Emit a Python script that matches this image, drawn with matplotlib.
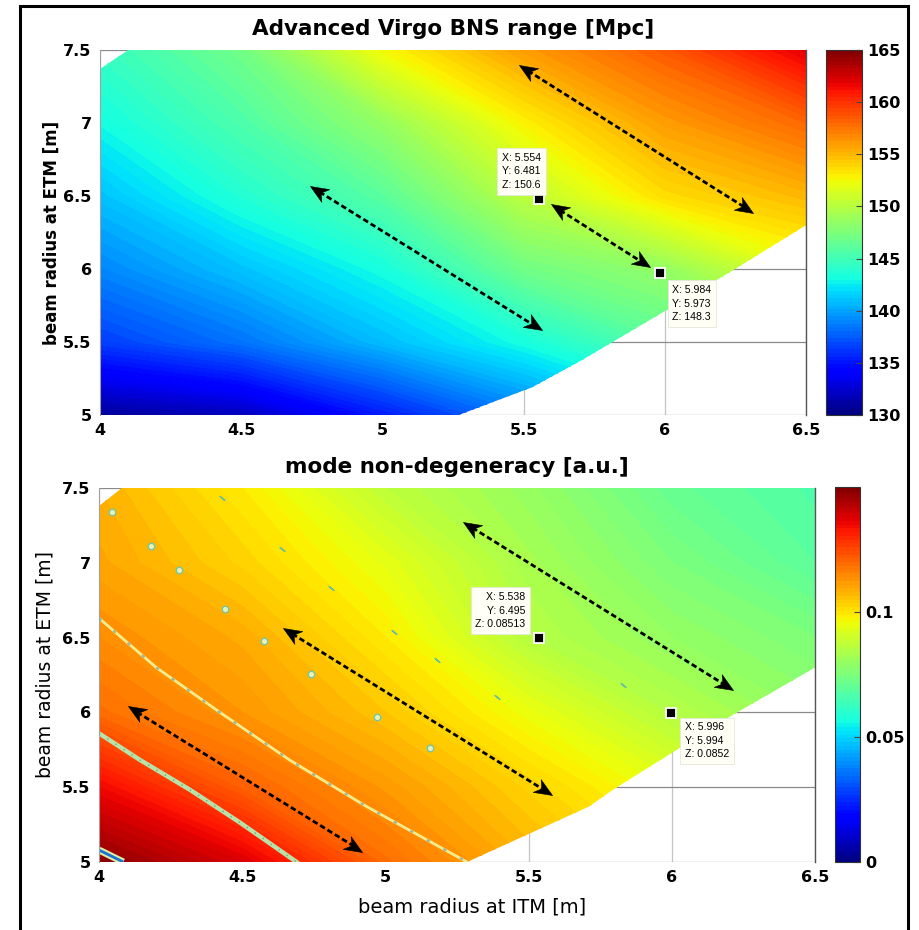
import numpy as np
import matplotlib
matplotlib.use("Agg")
import matplotlib.pyplot as plt
from matplotlib.patches import Polygon, Rectangle

# ---------------- data ----------------
x_itm = [4.0, 4.5, 5.0, 5.5, 6.0, 6.5]          # beam radius at ITM [m]
y_etm = [5.0, 5.5, 6.0, 6.5, 7.0, 7.5]          # beam radius at ETM [m]

# BNS range [Mpc], rows follow y_etm, columns follow x_itm
bns_range = [
    [130.8, 131.8, 135.2, 138.5, 141.5, 144.5],
    [136.5, 138.3, 140.8, 143.2, 146.0, 149.0],
    [139.0, 141.0, 143.2, 147.0, 148.5, 152.0],
    [141.0, 143.7, 146.0, 150.2, 153.6, 155.0],
    [143.0, 145.5, 148.5, 152.8, 156.0, 158.0],
    [144.5, 147.0, 152.5, 156.0, 158.5, 162.0],
]

# mode non-degeneracy [a.u.]
mode_nondeg = [
    [0.148, 0.138, 0.119, 0.108, 0.100, 0.094],
    [0.135, 0.121, 0.112, 0.103, 0.094, 0.087],
    [0.119, 0.1125, 0.105, 0.095, 0.0852, 0.079],
    [0.114, 0.109, 0.099, 0.0855, 0.0795, 0.075],
    [0.110, 0.103, 0.094, 0.083, 0.075, 0.069],
    [0.108, 0.099, 0.087, 0.080, 0.071, 0.067],
]

# valid (stable) region of the parameter space
domain_top_x = [4.0, 5.27, 5.53, 5.71, 5.99, 6.24, 6.5, 6.5, 4.1, 4.0]
domain_top_y = [5.0, 5.0, 5.19, 5.38, 5.70, 5.99, 6.3, 7.5, 7.5, 7.37]
domain_bot_x = [4.0, 5.285, 5.515, 5.71, 5.8, 6.21, 6.5, 6.5, 4.08, 4.0]
domain_bot_y = [5.0, 5.0, 5.2, 5.37, 5.49, 5.98, 6.3, 7.5, 7.5, 7.38]

# data tips
tips_top_x = [5.554, 5.984]
tips_top_y = [6.481, 5.973]
tips_top_z = ["150.6", "148.3"]
tips_bot_x = [5.538, 5.996]
tips_bot_y = [6.495, 5.994]
tips_bot_z = ["0.08513", "0.0852"]

# double arrows (start, end)
arrows_top = [((4.744, 6.568), (5.565, 5.580)),
              ((5.596, 6.443), (5.949, 6.011)),
              ((5.482, 7.398), (6.313, 6.386))]
arrows_bot = [((4.100, 6.040), (4.920, 5.070)),
              ((4.642, 6.564), (5.582, 5.448)),
              ((5.271, 7.273), (6.214, 6.150))]

# mode-degeneracy resonance traces in the lower map
resA_x = [4.0, 4.145, 4.32, 4.495, 4.69]
resA_y = [5.86, 5.68, 5.48, 5.26, 5.0]
resB_x = [4.0, 4.2, 4.43, 4.667, 4.935, 5.285]
resB_y = [6.63, 6.30, 5.99, 5.68, 5.37, 5.0]
resC_x = [4.045, 4.18, 4.28, 4.44, 4.575, 4.74, 4.97, 5.157]
resC_y = [7.34, 7.11, 6.95, 6.69, 6.48, 6.26, 5.97, 5.76]
resD_x = [4.43, 4.64, 4.81, 5.03, 5.18, 5.39, 5.83]
resD_y = [7.43, 7.09, 6.83, 6.54, 6.35, 6.10, 6.18]
resE_x = [4.0, 4.085]
resE_y = [5.08, 5.0]

xtick_vals = [4, 4.5, 5, 5.5, 6, 6.5]
xtick_labels = ["4", "4.5", "5", "5.5", "6", "6.5"]
ytick_vals = [5, 5.5, 6, 6.5, 7, 7.5]
ytick_labels = ["5", "5.5", "6", "6.5", "7", "7.5"]
cb_top_ticks = [130, 135, 140, 145, 150, 155, 160, 165]
cb_top_labels = ["130", "135", "140", "145", "150", "155", "160", "165"]
cb_bot_ticks = [0, 0.05, 0.1]
cb_bot_labels = ["0", "0.05", "0.1"]

# ---------------- figure ----------------
W, H = 919, 930
fig = plt.figure(figsize=(W / 100, H / 100), dpi=100)
fig.patch.set_facecolor("white")


def fr(x0, y0, x1, y1):
    return [x0 / W, 1 - y1 / H, (x1 - x0) / W, (y1 - y0) / H]


ax1 = fig.add_axes(fr(100, 50, 806, 415))
cax1 = fig.add_axes(fr(826, 50, 862, 415))
ax2 = fig.add_axes(fr(99, 488, 815, 862))
cax2 = fig.add_axes(fr(835, 487, 860, 862))

X, Y = np.meshgrid(x_itm, y_etm)


def style_axes(ax):
    ax.set_xlim(4, 6.5)
    ax.set_ylim(5, 7.5)
    ax.set_xticks(xtick_vals)
    ax.set_xticklabels(xtick_labels)
    ax.set_yticks(ytick_vals)
    ax.set_yticklabels(ytick_labels)
    ax.tick_params(length=0, labelsize=11.5, pad=6)
    for lab in ax.get_xticklabels() + ax.get_yticklabels():
        lab.set_fontweight("bold")
    ax.set_axisbelow(True)
    ax.xaxis.grid(True, color="#c4c4c4", lw=0.9)
    ax.yaxis.grid(True, color="#8a8a8a", lw=0.9)
    ax.spines["top"].set_visible(False)
    ax.spines["bottom"].set_visible(False)
    ax.spines["left"].set_color("#a0a0a0")
    ax.spines["left"].set_linewidth(0.8)
    ax.spines["right"].set_color("#555555")
    ax.spines["right"].set_linewidth(1.0)


def draw_map(ax, Z, levels, vmin, vmax, dx, dy):
    clip = Polygon(np.column_stack([dx, dy]), closed=True, transform=ax.transData,
                   facecolor="none", edgecolor="none")
    ax.add_patch(clip)
    cs = ax.contourf(X, Y, np.array(Z), levels=levels, cmap="jet",
                     vmin=vmin, vmax=vmax, zorder=1)
    cs.set_edgecolor("face")
    cs.set_linewidth(0.3)
    cs.set_clip_path(clip)
    return cs


# notched arrow head, tip at origin pointing along +x (pixel units)
HEAD = np.array([[0, 0], [-18, 7.5], [-12.5, 0], [-18, -7.5], [0, 0]], dtype=float)


def draw_arrows(ax, arrows):
    tr = ax.transData
    inv = tr.inverted()
    for (p0, p1) in arrows:
        d0 = tr.transform(p0)
        d1 = tr.transform(p1)
        v = d1 - d0
        L = np.hypot(*v)
        u = v / L
        a = inv.transform(d0 + u * 11)
        b = inv.transform(d1 - u * 11)
        ax.plot([a[0], b[0]], [a[1], b[1]], color="black", lw=2.0,
                linestyle=(0, (2.0, 1.1)), solid_capstyle="butt", zorder=5)
        for tip, dirv in ((p1, u), (p0, -u)):
            ang = np.arctan2(dirv[1], dirv[0])
            rot = np.array([[np.cos(ang), -np.sin(ang)], [np.sin(ang), np.cos(ang)]])
            verts = HEAD @ rot.T
            m = np.max(np.abs(verts))
            ms = 2 * m * 72 / 100
            ax.plot([tip[0]], [tip[1]], marker=verts, ms=ms, color="black",
                    mec="black", mew=0.4, linestyle="none", zorder=6)


def draw_tips(ax, xs, ys, zs, offsets, aligns):
    for xv, yv, zv, off, (ha, va) in zip(xs, ys, zs, offsets, aligns):
        ax.plot([xv], [yv], marker="s", ms=6.5, mfc="black", mec="white", mew=1.3,
                zorder=7)
        ax.annotate(f"X: {xv}\nY: {yv}\nZ: {zv}", xy=(xv, yv), xytext=off,
                    textcoords="offset pixels", ha=ha, va=va,
                    fontsize=7.6, family=["Liberation Sans", "DejaVu Sans"],
                    linespacing=1.45,
                    bbox=dict(boxstyle="square,pad=0.45", fc="#fffff6", ec="#e6e6dc", lw=0.6),
                    zorder=8)


# ---- top panel ----
cs1 = draw_map(ax1, bns_range, np.linspace(130, 165, 101), 130, 165,
               domain_top_x, domain_top_y)
style_axes(ax1)
draw_arrows(ax1, arrows_top)
draw_tips(ax1, tips_top_x, tips_top_y, tips_top_z,
          [(2, 9), (12, -12)], [("right", "bottom"), ("left", "top")])
ax1.set_title("Advanced Virgo BNS range [Mpc]", fontsize=15.5, fontweight="bold", pad=11)
ax1.set_ylabel("beam radius at ETM [m]", fontsize=12, fontweight="bold")
ax1.yaxis.set_label_coords(-0.055, 0.5)

cb1 = fig.colorbar(cs1, cax=cax1, ticks=cb_top_ticks)
cb1.ax.set_yticklabels(cb_top_labels)
cb1.ax.tick_params(direction="in", length=4, width=0.8, color="#444444", labelsize=11.5, pad=4)
for lab in cb1.ax.get_yticklabels():
    lab.set_fontweight("bold")
cb1.outline.set_linewidth(0.8)
cb1.outline.set_edgecolor("#333333")

# ---- bottom panel ----
cs2 = draw_map(ax2, mode_nondeg, np.linspace(0, 0.15, 101), 0, 0.15,
               domain_bot_x, domain_bot_y)
style_axes(ax2)

# resonance traces
ax2.plot(resE_x, resE_y, color="#d8f0a0", lw=5, solid_capstyle="butt", zorder=2)
ax2.plot(resE_x, resE_y, color="#1f70d8", lw=2, solid_capstyle="butt", zorder=2)
ax2.plot(resA_x, resA_y, color="#b8e2a8", lw=3.2, zorder=2)
ax2.plot(resA_x, resA_y, color="#6fa880", lw=1, linestyle=(0, (1, 6)), zorder=2)
ax2.plot(resB_x, resB_y, color="#f2ec8a", lw=2.0, zorder=2)
ax2.plot(resB_x, resB_y, color="#9ab8a0", lw=1.6, linestyle=(0, (1.5, 7)), zorder=2)
ax2.scatter(resC_x, resC_y, s=22, facecolors="#e4f4b8", edgecolors="#79c4a4",
            linewidths=1.0, zorder=2)
ax2.scatter(resD_x, resD_y, s=18, marker=(2, 2, 50), color="#6cbf9c",
            linewidths=1.0, zorder=2)

draw_arrows(ax2, arrows_bot)
draw_tips(ax2, tips_bot_x, tips_bot_y, tips_bot_z,
          [(-14, 9), (14, -9)], [("right", "bottom"), ("left", "top")])
ax2.set_title("mode non-degeneracy [a.u.]", fontsize=15.5, fontweight="bold", pad=11)
ax2.set_ylabel("beam radius at ETM [m]", fontsize=13.5)
ax2.yaxis.set_label_coords(-0.062, 0.527)
ax2.set_xlabel("beam radius at ITM [m]", fontsize=14)
ax2.xaxis.set_label_coords(0.521, -0.095)

cb2 = fig.colorbar(cs2, cax=cax2, ticks=cb_bot_ticks)
cb2.ax.set_yticklabels(cb_bot_labels)
cb2.ax.tick_params(direction="in", length=4, width=0.8, color="#444444", labelsize=11.5, pad=4)
for lab in cb2.ax.get_yticklabels():
    lab.set_fontweight("bold")
cb2.outline.set_linewidth(0.8)
cb2.outline.set_edgecolor("#333333")

# screenshot frame
fig.add_artist(Rectangle((19.5 / W, -0.01), (907.5 - 19.5) / W, 1 - 6 / H + 0.01,
                         transform=fig.transFigure, fill=False, ec="black", lw=2.2))

fig.savefig("out.png", dpi=100, facecolor="white")
